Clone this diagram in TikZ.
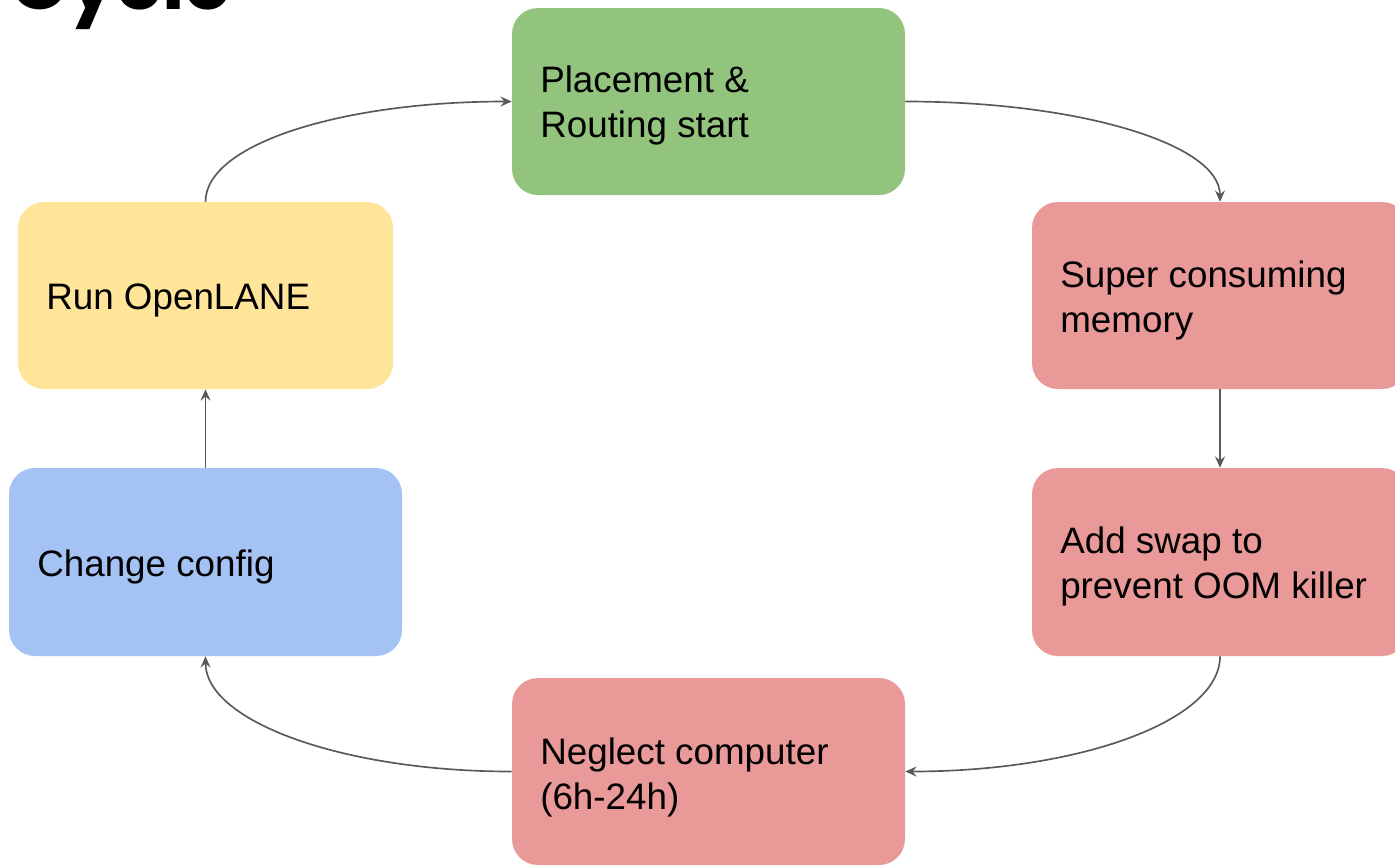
\documentclass[tikz,border=0pt]{standalone}
\usepackage{fontspec}
\setmainfont{Liberation Sans}
\newfontfamily\titlefont{Poppins}
\usetikzlibrary{arrows.meta}
\definecolor{boxgreen}{HTML}{93C47D}
\definecolor{boxyellow}{HTML}{FFE599}
\definecolor{boxred}{HTML}{EA9999}
\definecolor{boxblue}{HTML}{A4C2F4}
\definecolor{linkgray}{HTML}{595959}
\begin{document}
\begin{tikzpicture}[x=0.75pt,y=-0.75pt,
  stage/.style={rounded corners=19.5pt, inner sep=0pt, draw=none,
    minimum height=0.75*187pt},
  label/.style={anchor=base west, inner sep=0pt, text=black,
    font=\fontsize{27.6}{27.6}\selectfont},
  conn/.style={draw=linkgray, line width=1.25pt,
    -{Stealth[length=8.5pt,width=7.5pt,inset=3pt]}}]
\useasboundingbox (0,0) rectangle (1395,865);
\clip (0,0) rectangle (1395,865);

% heading, mostly above the page edge
\node[anchor=base west, inner sep=0pt,
  font=\titlefont\bfseries\fontsize{57}{57}\selectfont] (title) at (10,9) {Cycle};

% stages of the loop
\node[stage, fill=boxgreen, minimum width=0.75*393pt] (place) at (708.5,101.5) {};
\node[stage, fill=boxred, minimum width=0.75*376pt] (mem) at (1220,295.5) {};
\node[stage, fill=boxred, minimum width=0.75*376pt, minimum height=0.75*188pt] (swap) at (1220,562) {};
\node[stage, fill=boxred, minimum width=0.75*393pt] (wait) at (708.5,771.5) {};
\node[stage, fill=boxblue, minimum width=0.75*393pt, minimum height=0.75*188pt] (config) at (205.5,562) {};
\node[stage, fill=boxyellow, minimum width=0.75*375pt] (run) at (205.5,295.5) {};

% stage texts
\node[label] (place-a) at (540,92) {Placement \&};
\node[label] (place-b) at (540,137) {Routing start};
\node[label] (mem-a) at (1060,287) {Super consuming};
\node[label] (mem-b) at (1060,332) {memory};
\node[label] (swap-a) at (1060,553) {Add swap to};
\node[label] (swap-b) at (1060,598) {prevent OOM killer};
\node[label] (wait-a) at (540,764) {Neglect computer};
\node[label] (wait-b) at (540,809) {(6h-24h)};
\node[label] (config-a) at (37,576) {Change config};
\node[label] (run-a) at (46,309) {Run OpenLANE};

% connectors
\draw[conn] (run.north) .. controls +(0,-58) and +(-169,0) .. (place.west);
\draw[conn] (place.east) .. controls +(173,0) and +(0,-58) .. (mem.north);
\draw[conn] (mem.south) -- (swap.north);
\draw[conn] (swap.south) .. controls +(0,65) and +(173,0) .. (wait.east);
\draw[conn] (wait.west) .. controls +(-169,0) and +(0,65) .. (config.south);
\draw[conn] (config.north) -- (run.south);
\end{tikzpicture}
\end{document}
